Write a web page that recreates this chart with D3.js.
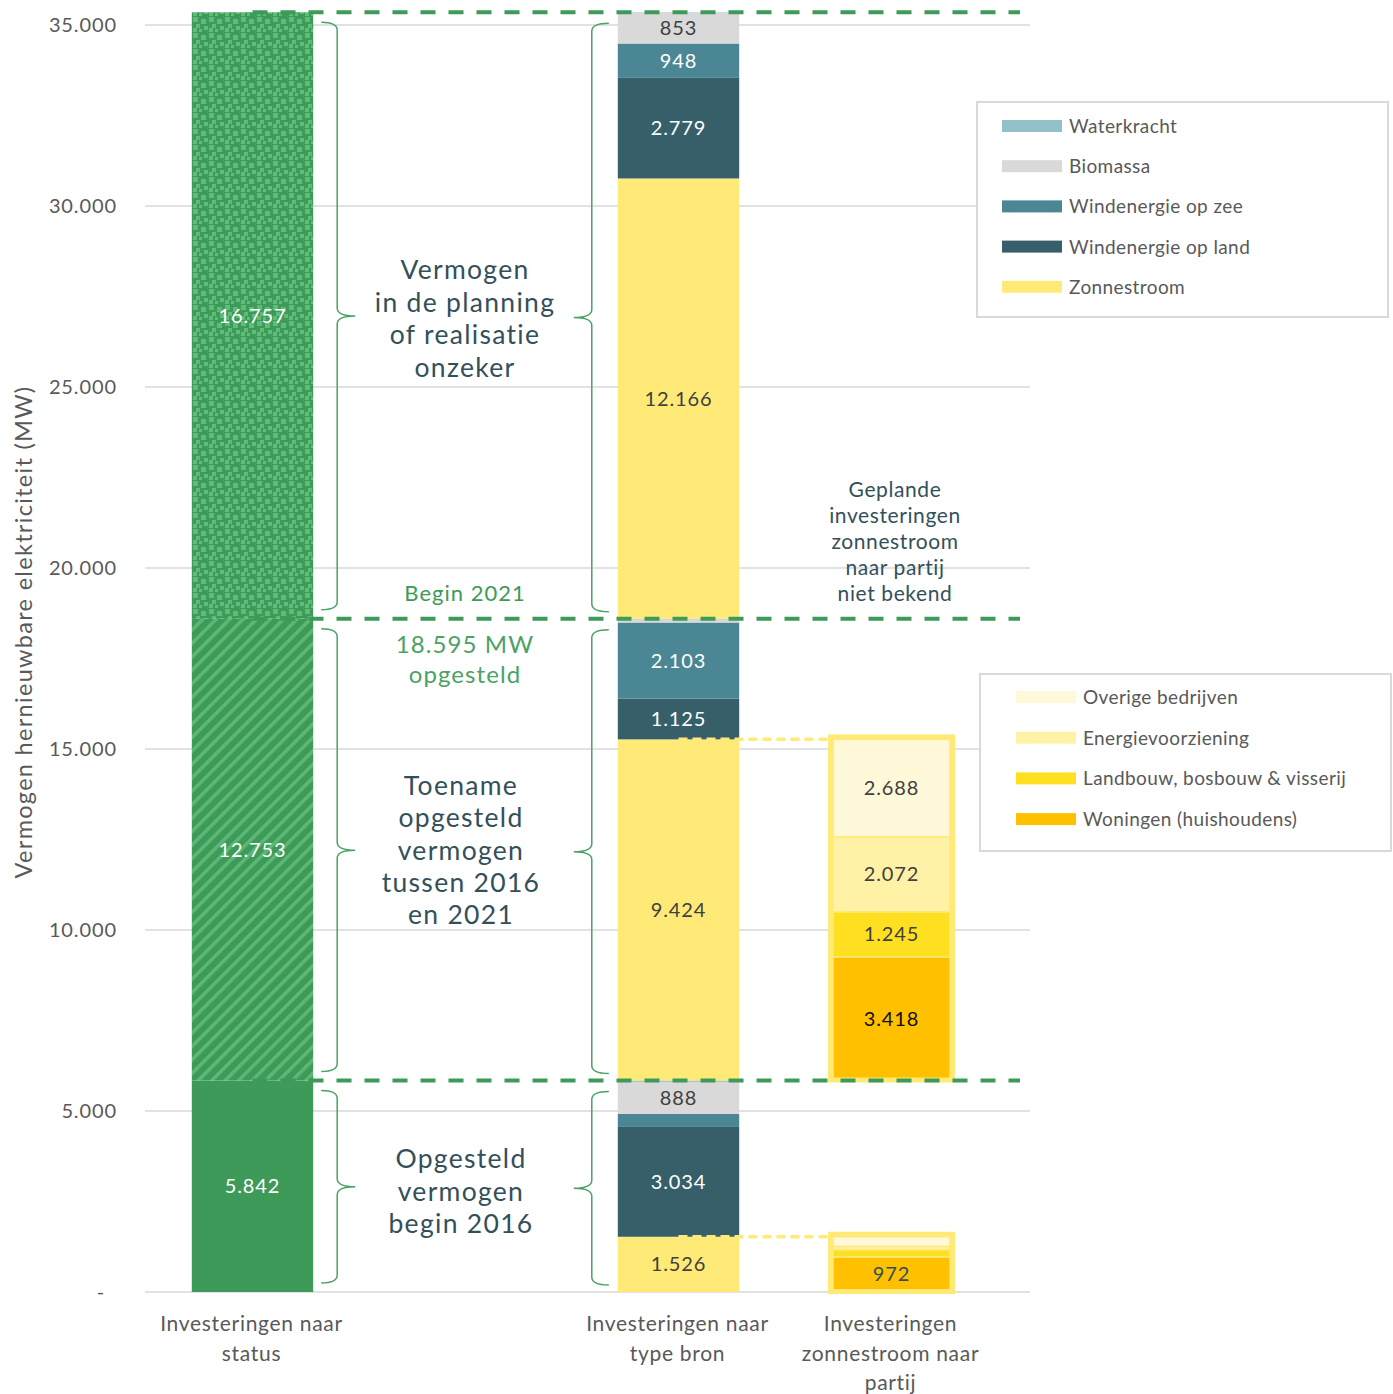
<!doctype html>
<html>
  <head>
    <script src="https://cdn.jsdelivr.net/npm/d3@7"></script>
    <style>
      body { margin: 0; background: #fff; }
      text { font-family: Lato, "Open Sans", sans-serif; }
    </style>
  </head>
  <body>
    <script>
      // columns on the x axis ("tekst" is the empty column with the annotations)
      var columns = ["status", "tekst", "bron", "partij"];
      var columnLabels = [["Investeringen naar", "status"], [], ["Investeringen naar", "type bron"], ["Investeringen", "zonnestroom naar", "partij"]];

      // three sections: begin 2016, toename 2016-2021, planning/onzeker
      var statusValues = [5842, 12753, 16757];

      // by source, per section
      var bronNames = ["Zonnestroom", "Windenergie op land", "Windenergie op zee", "Biomassa", "Waterkracht"];
      var zon = [1526, 9424, 12166];
      var windLand = [3034, 1125, 2779];
      var windZee = [357, 2103, 948];
      var biomassa = [888, 88, 853];
      var waterkracht = [37, 13, 11];

      // solar by party, only for the first two sections
      var partijNames = ["Woningen (huishoudens)", "Landbouw, bosbouw & visserij", "Energievoorziening", "Overige bedrijven"];
      var woningen = [972, 3418];
      var landbouw = [195, 1245];
      var energie = [95, 2072];
      var overige = [264, 2688];

      var yTicks = [0, 5000, 10000, 15000, 20000, 25000, 30000, 35000];

      var colBron = {"Zonnestroom": "#ffea78", "Windenergie op land": "#375f69", "Windenergie op zee": "#4a8693",
                     "Biomassa": "#d9d9d9", "Waterkracht": "#93c1c9"};
      var colPartij = {"Woningen (huishoudens)": "#ffc000", "Landbouw, bosbouw & visserij": "#ffe021",
                       "Energievoorziening": "#fff2a6", "Overige bedrijven": "#fff8d9"};
      var darkLabel = {"Windenergie op land": 1, "Windenergie op zee": 1};

      var w_svg = 1393, h_svg = 1394;
      var green = "#3e9a58", textCol = "#595959", annCol = "#33505a";

      var svg = d3.select("body").append("svg").attr("width", w_svg).attr("height", h_svg);

      var x = d3.scaleBand().domain(columns).range([146, 998]).paddingInner(0.43).paddingOuter(0.215);
      var y = d3.scaleLinear().domain([0, 35000]).range([1292, 25]);
      var bw = x.bandwidth();
      var cx = function(c) { return x(c) + bw / 2; };

      var nl = d3.formatLocale({decimal: ",", thousands: ".", grouping: [3], currency: ["", ""]});
      var fmt = nl.format(",d");

      // patterns for the status bar
      var defs = svg.append("defs");
      var pDots = defs.append("pattern").attr("id", "dots").attr("patternUnits", "userSpaceOnUse")
                      .attr("width", 16).attr("height", 16);
      pDots.append("rect").attr("width", 16).attr("height", 16).attr("fill", green);
      [[1,1,5],[9,3,5],[4,8,4],[12,10,4],[1,12,4],[7,13,3]].forEach(function(p) {
        pDots.append("rect").attr("x", p[0]).attr("y", p[1]).attr("width", p[2]).attr("height", p[2]).attr("fill", "#5dbd78");
      });
      var pStripe = defs.append("pattern").attr("id", "stripes").attr("patternUnits", "userSpaceOnUse")
                        .attr("width", 9.5).attr("height", 9.5).attr("patternTransform", "rotate(45)");
      pStripe.append("rect").attr("width", 9.5).attr("height", 9.5).attr("fill", green);
      pStripe.append("rect").attr("width", 3.5).attr("height", 9.5).attr("fill", "#5cb874");

      // gridlines
      svg.append("g").selectAll("line").data(yTicks).enter().append("line")
         .attr("x1", 145).attr("x2", 1030)
         .attr("y1", function(d) { return y(d); }).attr("y2", function(d) { return y(d); })
         .attr("stroke", "#d9d9d9").attr("stroke-width", 1.5);

      // y axis labels
      var yAxis = d3.axisLeft(y).tickValues(yTicks).tickSize(0)
                    .tickFormat(function(d) { return d === 0 ? "-" : fmt(d); });
      var gy = svg.append("g").attr("transform", "translate(117,0)").call(yAxis);
      gy.select(".domain").remove();
      gy.selectAll("text").attr("font-family", "Lato, sans-serif").attr("font-size", 20)
        .attr("letter-spacing", 0.9).attr("fill", textCol).attr("dx", 0).attr("x", 0);
      gy.selectAll(".tick").filter(function(d) { return d === 0; }).select("text").attr("x", -12);

      svg.append("text").attr("transform", "translate(32,632) rotate(-90)").attr("text-anchor", "middle")
         .attr("font-size", 23.5).attr("letter-spacing", 1.3).attr("fill", textCol)
         .text("Vermogen hernieuwbare elektriciteit (MW)");

      // section bounds
      var bounds = [0];
      statusValues.forEach(function(v, i) { bounds.push(bounds[i] + v); });

      // status bar
      var fills = [green, "url(#stripes)", "url(#dots)"];
      svg.append("g").selectAll("rect").data(statusValues).enter().append("rect")
         .attr("x", x("status")).attr("width", bw)
         .attr("y", function(d, i) { return y(bounds[i + 1]); })
         .attr("height", function(d, i) { return y(bounds[i]) - y(bounds[i + 1]); })
         .attr("fill", function(d, i) { return fills[i]; });
      svg.append("g").selectAll("text").data(statusValues).enter().append("text")
         .attr("x", cx("status")).attr("y", function(d, i) { return y(bounds[i] + d / 2) + 7; })
         .attr("text-anchor", "middle").attr("font-size", 20).attr("letter-spacing", 0.9).attr("fill", "#fff")
         .text(function(d) { return fmt(d); });

      // source bar: build segments from the arrays
      var bronArrays = [zon, windLand, windZee, biomassa, waterkracht];
      var bronSegs = [];
      statusValues.forEach(function(s, i) {
        var base = bounds[i];
        bronNames.forEach(function(name, k) {
          var v = bronArrays[k][i];
          bronSegs.push({name: name, v: v, y0: base, y1: base + v});
          base += v;
        });
      });
      var gb = svg.append("g");
      gb.selectAll("rect").data(bronSegs).enter().append("rect")
        .attr("x", x("bron")).attr("width", bw)
        .attr("y", function(d) { return y(d.y1); })
        .attr("height", function(d) { return y(d.y0) - y(d.y1); })
        .attr("fill", function(d) { return colBron[d.name]; });
      gb.selectAll("text").data(bronSegs.filter(function(d) { return d.v >= 800; })).enter().append("text")
        .attr("x", cx("bron")).attr("y", function(d) { return y((d.y0 + d.y1) / 2) + 7; })
        .attr("text-anchor", "middle").attr("font-size", 20).attr("letter-spacing", 0.9)
        .attr("fill", function(d) { return darkLabel[d.name] ? "#fff" : "#404040"; })
        .text(function(d) { return fmt(d.v); });

      // party bar
      var partijArrays = [woningen, landbouw, energie, overige];
      var partijSegs = [], frames = [];
      woningen.forEach(function(w, i) {
        var base = bounds[i], start = base;
        partijNames.forEach(function(name, k) {
          var v = partijArrays[k][i];
          partijSegs.push({name: name, v: v, y0: base, y1: base + v});
          base += v;
        });
        frames.push({y0: start, y1: start + zon[i]});
      });
      var gp = svg.append("g");
      var inset = (bw - 117) / 2;

      // yellow dashed connectors from solar top to party bar
      gp.selectAll("line.conn").data(frames).enter().append("line")
        .attr("x1", cx("bron")).attr("x2", x("partij") + 2)
        .attr("y1", function(d) { return y(d.y1); }).attr("y2", function(d) { return y(d.y1); })
        .attr("stroke", "#ffea78").attr("stroke-width", 3.5).attr("stroke-dasharray", "9,5");

      gp.selectAll("rect.seg").data(partijSegs).enter().append("rect")
        .attr("x", x("partij") + inset).attr("width", 117)
        .attr("y", function(d) { return y(d.y1); })
        .attr("height", function(d) { return y(d.y0) - y(d.y1); })
        .attr("fill", function(d) { return colPartij[d.name]; })
        .attr("stroke", "#ffea78").attr("stroke-width", 1.5);
      gp.selectAll("rect.frame").data(frames).enter().append("rect")
        .attr("x", x("partij") + inset - 2.5).attr("width", 122)
        .attr("y", function(d) { return y(d.y1) - 2.5; })
        .attr("height", function(d) { return y(d.y0) - y(d.y1) + 2; })
        .attr("fill", "none").attr("stroke", "#ffea78").attr("stroke-width", 5);
      gp.selectAll("text").data(partijSegs.filter(function(d) { return d.v >= 800; })).enter().append("text")
        .attr("x", cx("partij")).attr("y", function(d) { return y((d.y0 + d.y1) / 2) + 7; })
        .attr("text-anchor", "middle").attr("font-size", 20).attr("letter-spacing", 0.9)
        .attr("fill", function(d) { return d.name === "Woningen (huishoudens)" ? (d.v > 2000 ? "#111" : "#33505a") : "#404040"; })
        .text(function(d) { return fmt(d.v); });

      // green dashed section lines
      svg.append("g").selectAll("line").data(bounds.slice(1)).enter().append("line")
         .attr("x1", cx("status")).attr("x2", 1020)
         .attr("y1", function(d) { return y(d); }).attr("y2", function(d) { return y(d); })
         .attr("stroke", green).attr("stroke-width", 4).attr("stroke-dasharray", "15,13");

      // braces
      function brace(xo, xs, xt, y0, y1) {
        var ym = (y0 + y1) / 2;
        var p = d3.path();
        p.moveTo(xo, y0);
        p.quadraticCurveTo(xs, y0, xs, y0 + 8);
        p.lineTo(xs, ym - 8);
        p.quadraticCurveTo(xs, ym, xt, ym);
        p.quadraticCurveTo(xs, ym, xs, ym + 8);
        p.lineTo(xs, y1 - 8);
        p.quadraticCurveTo(xs, y1, xo, y1);
        return p.toString();
      }
      var gBr = svg.append("g").attr("fill", "none").attr("stroke", "#4aa265").attr("stroke-width", 1.5);
      statusValues.forEach(function(v, i) {
        var y0 = y(bounds[i + 1]) + 10, y1 = y(bounds[i]) - 9;
        var xr = x("status") + bw;
        gBr.append("path").attr("d", brace(xr + 8, xr + 24, xr + 42, y0, y1));
        var xl = x("bron");
        gBr.append("path").attr("d", brace(xl - 9, xl - 26, xl - 44, y0 + 1, y1 + 2));
      });

      // annotation text
      function block(lines, xc, yStart, lh, size, col, ls) {
        svg.append("g").selectAll("text").data(lines).enter().append("text")
           .attr("x", xc).attr("y", function(d, i) { return yStart + i * lh; })
           .attr("text-anchor", "middle").attr("font-size", size).attr("letter-spacing", ls || 0).attr("fill", col)
           .text(function(d) { return d; });
      }
      block(["Vermogen", "in de planning", "of realisatie", "onzeker"], 465, 279, 32.5, 26.5, annCol, 1.3);
      block(["Begin 2021"], 465, 601, 0, 22, green, 1);
      block(["18.595 MW", "opgesteld"], 465, 653, 30, 24, "#4aa265", 1.1);
      block(["Toename", "opgesteld", "vermogen", "tussen 2016", "en 2021"], 461, 795, 32.3, 26.5, annCol, 1.3);
      block(["Opgesteld", "vermogen", "begin 2016"], 461, 1168, 32.5, 26.5, annCol, 1.3);
      block(["Geplande", "investeringen", "zonnestroom", "naar partij", "niet bekend"], 895, 497, 26, 21, annCol, 0.6);

      // x labels
      columns.forEach(function(c, i) {
        block(columnLabels[i], cx(c) - 1, 1331, 29.5, 21, textCol, 0.7);
      });

      // legends
      function legend(names, colors, bx, by, bwid, bh, sx, ty0, step) {
        var g = svg.append("g");
        g.append("rect").attr("x", bx).attr("y", by).attr("width", bwid).attr("height", bh)
         .attr("fill", "#fff").attr("stroke", "#d9d9d9").attr("stroke-width", 2);
        var it = g.selectAll("g").data(names).enter().append("g")
                  .attr("transform", function(d, i) { return "translate(0," + (ty0 + i * step) + ")"; });
        it.append("rect").attr("x", sx).attr("y", -6).attr("width", 60).attr("height", 12)
          .attr("fill", function(d) { return colors[d]; });
        it.append("text").attr("x", sx + 67).attr("y", 7).attr("font-size", 19).attr("letter-spacing", 0.4)
          .attr("fill", textCol).text(function(d) { return d; });
      }
      legend(bronNames.slice().reverse(), colBron, 977, 102, 411, 215, 1002, 126, 40.2);
      legend(partijNames.slice().reverse(), colPartij, 980, 674, 411, 177, 1016, 697, 40.7);
    </script>
  </body>
</html>
